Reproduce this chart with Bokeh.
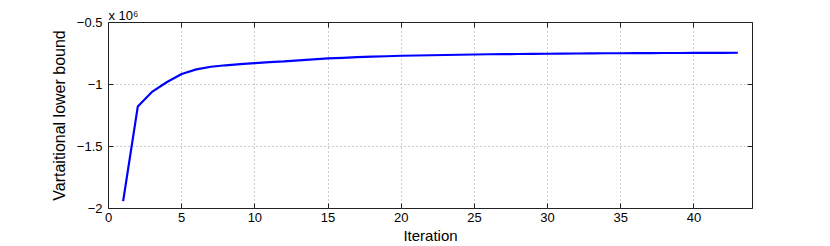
from bokeh.plotting import figure
from bokeh.models import Range1d, FixedTicker, LinearAxis, CustomJSTickFormatter
from bokeh.embed import file_html
from bokeh.resources import INLINE

# ---- data (values in units of 10^6) ----
iterations = list(range(1, 44))
lower_bound = [
    -1.940, -1.178, -1.057, -0.980, -0.915, -0.878, -0.857, -0.845, -0.835, -0.827,
    -0.820, -0.813, -0.805, -0.797, -0.790, -0.785, -0.780, -0.776, -0.772, -0.768,
    -0.766, -0.764, -0.762, -0.760, -0.758, -0.756, -0.755, -0.754, -0.753, -0.752,
    -0.751, -0.750, -0.749, -0.748, -0.748, -0.747, -0.747, -0.746, -0.746, -0.745,
    -0.745, -0.745, -0.744,
]
x_ticks = [0, 5, 10, 15, 20, 25, 30, 35, 40]
x_tick_labels = ["0", "5", "10", "15", "20", "25", "30", "35", "40"]
y_ticks = [-2, -1.5, -1, -0.5]
y_tick_labels = ["\u22122", "\u22121.5", "\u22121", "\u22120.5"]
x_label = "Iteration"
y_label = "Vartaitional lower bound"
exponent_label = "x 10\u2076"

FONT = "Liberation Sans"

p = figure(
    width=830, height=246,
    output_backend="svg", toolbar_location=None,
    x_range=Range1d(0, 44), y_range=Range1d(-2, -0.5),
    min_border_left=108, min_border_right=78,
    min_border_top=22, min_border_bottom=36,
    x_axis_label=x_label, y_axis_label=y_label,
    title=exponent_label,
)
p.background_fill_color = "white"
p.border_fill_color = "white"
p.outline_line_color = "#222222"
p.outline_line_width = 1

p.title.align = "left"
p.title.offset = 0
p.title.standoff = 0
p.title.text_font = FONT
p.title.text_font_size = "13px"
p.title.text_font_style = "normal"
p.title.text_color = "black"

# main axes
for ax, ticks, labels in ((p.xaxis[0], x_ticks, x_tick_labels), (p.yaxis[0], y_ticks, y_tick_labels)):
    ax.ticker = FixedTicker(ticks=ticks)
    ax.major_label_overrides = {t: l for t, l in zip(ticks, labels)}
    ax.axis_line_color = None
    ax.major_tick_in = 5
    ax.major_tick_out = 0
    ax.minor_tick_line_color = None
    ax.major_tick_line_color = "#222222"
    ax.major_label_text_font = FONT
    ax.major_label_text_font_size = "13px"
    ax.major_label_text_color = "black"
    ax.axis_label_text_font = FONT
    ax.axis_label_text_font_style = "normal"
    ax.axis_label_text_color = "black"

p.xaxis[0].axis_label_text_font_size = "15px"
p.yaxis[0].axis_label_text_font_size = "16px"
p.xaxis[0].major_label_standoff = 4
p.xaxis[0].axis_label_standoff = 2
p.yaxis[0].major_label_standoff = 6
p.yaxis[0].axis_label_standoff = 6

# mirrored tick-only axes (box style)
blank = CustomJSTickFormatter(code="return ''")
for loc, ticks in (("right", y_ticks), ("above", x_ticks)):
    ax = LinearAxis(ticker=FixedTicker(ticks=ticks), formatter=blank)
    ax.axis_line_color = None
    ax.major_tick_in = 5
    ax.major_tick_out = 0
    ax.minor_tick_line_color = None
    ax.major_tick_line_color = "#222222"
    ax.major_label_standoff = 0
    p.add_layout(ax, loc)

# grid
for g in (p.xgrid[0], p.ygrid[0]):
    g.grid_line_color = "#999999"
    g.grid_line_dash = "1 3"
    g.grid_line_width = 1

p.line(iterations, lower_bound, line_color="#0000ff", line_width=2.2)

open("out.html", "w").write(file_html(p, INLINE))
